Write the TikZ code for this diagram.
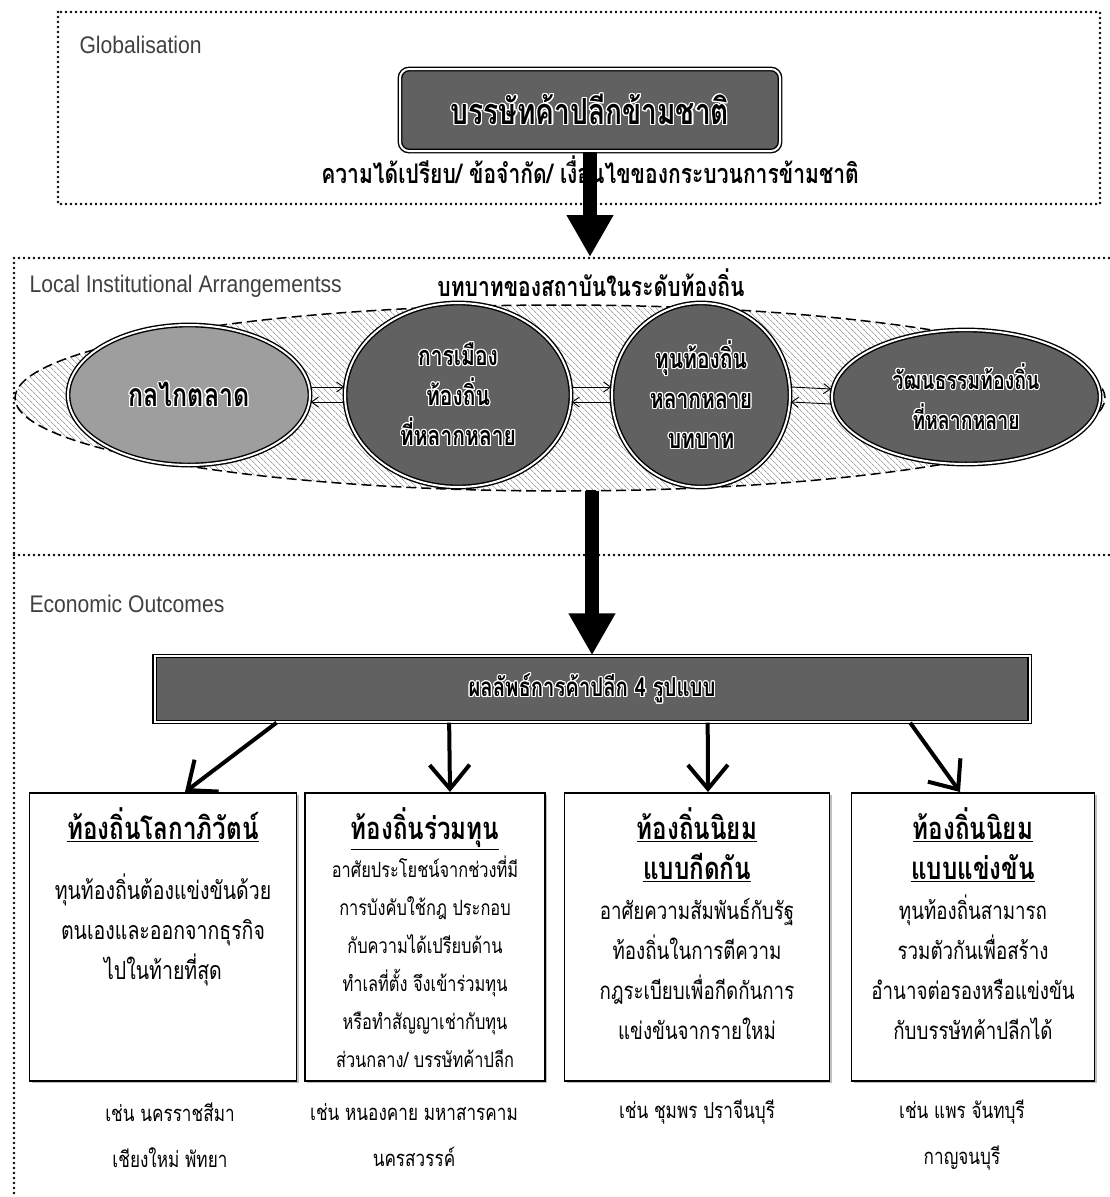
\documentclass[tikz,border=0pt]{standalone}
\usepackage{fontspec}
\usepackage[copies]{contour}
\setmainfont[FakeStretch=0.88]{Liberation Sans}
\newfontfamily\thai[Script=Thai,FakeStretch=0.78]{Loma}
\usetikzlibrary{calc,arrows.meta,patterns.meta,shapes.geometric,shadows}
\contourlength{1.1pt}
\contournumber{16}
\newcommand{\hl}[1]{\contour{white}{#1}}
\newcommand{\ttl}[1]{{\fontsize{31}{40}\selectfont\bfseries\underline{#1}}}

\begin{document}
\begin{tikzpicture}[x=1pt,y=-1pt,
  zone/.style={line width=2.8pt,dash pattern=on 0pt off 5pt,line cap=round},
  tag/.style={anchor=west,font=\fontsize{24}{26}\selectfont,text=black!75},
  dbl/.style={draw,line width=1.4pt,double=white,double distance=2pt},
  oval/.style={ellipse,dbl,inner sep=0pt,align=center,fill=black!62,font=\thai\bfseries\fontsize{27}{40}\selectfont},
  outbox/.style={draw,line width=1.6pt,fill=white,drop shadow={shadow xshift=2pt,shadow yshift=-2pt,fill=black!50},minimum height=288pt,anchor=north},
  boxtxt/.style={anchor=north,align=center,font=\thai\fontsize{24}{40}\selectfont},
  ex/.style={align=center,font=\thai\fontsize{22}{46}\selectfont},
  bigarr/.style={line width=14pt,-{Triangle[length=42pt,width=44pt]}},
  barb/.style={line width=4pt,-{Straight Barb[length=24pt,width=40pt]}},
  pair/.style={line width=0.9pt,-{Straight Barb[length=7pt,width=10pt]}},
  font=\thai]
  \useasboundingbox (0,0) rectangle (1109,1197);
  % zones
  \draw[zone] (58,12) rectangle (1100,204);
  \draw[zone] (1109,258) -- (14,258) -- (14,1197);
  \draw[zone] (14,555) -- (1109,555);
  \node[tag] (glob) at (76,45) {Globalisation};
  \node[tag] (lia) at (26,286) {Local Institutional Arrangementss};
  \node[tag] (eco) at (26,604) {Economic Outcomes};
  % globalisation
  \node[dbl,rounded corners=9pt,fill=black!62,minimum width=380pt,minimum height=82pt,font=\thai\bfseries\fontsize{36}{40}\selectfont] (firm) at (590,110) {\hl{บรรษัทค้าปลีกข้ามชาติ}};
  \node[font=\thai\bfseries\fontsize{27}{30}\selectfont] (cond) at (590,170) {ความได้เปรียบ/ ข้อจำกัด/ เงื่อนไขของกระบวนการข้ามชาติ};
  \coordinate (z2) at (590,257);
  \draw[bigarr] (firm.south) -- (z2);
  % local institutions
  \node[font=\thai\bfseries\fontsize{27}{30}\selectfont] (role) at (591,283) {บทบาทของสถาบันในระดับท้องถิ่น};
  \node[ellipse,draw,line width=1.5pt,dash pattern=on 10pt off 5pt,pattern={Lines[angle=-45,distance=4pt,line width=0.6pt]},pattern color=black!55,minimum width=1090pt,minimum height=186pt] (inst) at (560,398) {};
  \node[oval,fill=black!38,minimum width=242pt,minimum height=140pt,font=\thai\bfseries\fontsize{32}{36}\selectfont] (mkt) at (189,395) {\hl{กลไกตลาด}};
  \node[oval,minimum width=226pt,minimum height=184pt] (pol) at (458,395) {\hl{การเมือง}\\\hl{ท้องถิ่น}\\\hl{ที่หลากหลาย}};
  \node[oval,minimum width=178pt,minimum height=184pt] (cap) at (701,395) {\hl{ทุนท้องถิ่น}\\\hl{หลากหลาย}\\\hl{บทบาท}};
  \node[oval,minimum width=268pt,minimum height=134pt,font=\thai\bfseries\fontsize{25}{40}\selectfont] (cul) at (966,397) {\hl{วัฒนธรรมท้องถิ่น}\\\hl{ที่หลากหลาย}};
  \foreach \a/\b in {mkt/pol,pol/cap,cap/cul} {
    \draw[pair] ([yshift=8pt]\a.east) -- ([yshift=8pt]\b.west);
    \draw[pair] ([yshift=-7pt]\b.west) -- ([yshift=-7pt]\a.east);
  }
  % outcomes
  \node[dbl,fill=black!62,minimum width=875pt,minimum height=66pt,font=\thai\bfseries\fontsize{26}{30}\selectfont] (res) at (592,689) {\hl{ผลลัพธ์การค้าปลีก 4 รูปแบบ}};
  \draw[bigarr] (res.north |- inst.south) -- (res.north);
  \node[outbox,minimum width=267pt] (t1) at (163,792) {};
  \node[outbox,minimum width=240pt] (t2) at (425,792) {};
  \node[outbox,minimum width=265pt] (t3) at (697,792) {};
  \node[outbox,minimum width=243pt] (t4) at (973,792) {};
  \draw[barb] ($(res.south west)!0.14!(res.south east)$) -- ($(t1.north)+(22,0)$);
  \draw[barb] ($(res.south west)!0.337!(res.south east)$) -- ($(t2.north)+(25,0)$);
  \draw[barb] ($(res.south west)!0.632!(res.south east)$) -- ($(t3.north)+(11,0)$);
  \draw[barb] ($(res.south west)!0.863!(res.south east)$) -- ($(t4.north)+(-13,0)$);
  \node[boxtxt,font=\thai\fontsize{25}{40}\selectfont] (t1txt) at ([yshift=-12pt]t1.north) {\ttl{ท้องถิ่นโลกาภิวัตน์}\\[20pt]ทุนท้องถิ่นต้องแข่งขันด้วย\\ตนเองและออกจากธุรกิจ\\ไปในท้ายที่สุด};
  \node[boxtxt,font=\thai\fontsize{21}{38}\selectfont] (t2txt) at ([yshift=-12pt]t2.north) {\ttl{ท้องถิ่นร่วมทุน}\\อาศัยประโยชน์จากช่วงที่มี\\การบังคับใช้กฎ ประกอบ\\กับความได้เปรียบด้าน\\ทำเลที่ตั้ง จึงเข้าร่วมทุน\\หรือทำสัญญาเช่ากับทุน\\ส่วนกลาง/ บรรษัทค้าปลีก};
  \node[boxtxt] (t3txt) at ([yshift=-12pt]t3.north) {\ttl{ท้องถิ่นนิยม}\\\ttl{แบบกีดกัน}\\อาศัยความสัมพันธ์กับรัฐ\\ท้องถิ่นในการตีความ\\กฎระเบียบเพื่อกีดกันการ\\แข่งขันจากรายใหม่};
  \node[boxtxt] (t4txt) at ([yshift=-12pt]t4.north) {\ttl{ท้องถิ่นนิยม}\\\ttl{แบบแข่งขัน}\\ทุนท้องถิ่นสามารถ\\รวมตัวกันเพื่อสร้าง\\อำนาจต่อรองหรือแข่งขัน\\กับบรรษัทค้าปลีกได้};
  % examples
  \node[ex] (e1) at (170,1135) {เช่น นครราชสีมา\\เชียงใหม่ พัทยา};
  \node[ex] (e2) at (414,1135) {เช่น หนองคาย มหาสารคาม\\นครสวรรค์};
  \node[ex] (e3) at (697,1112) {เช่น ชุมพร ปราจีนบุรี};
  \node[ex] (e4) at (962,1135) {เช่น แพร จันทบุรี\\กาญจนบุรี};
\end{tikzpicture}
\end{document}
